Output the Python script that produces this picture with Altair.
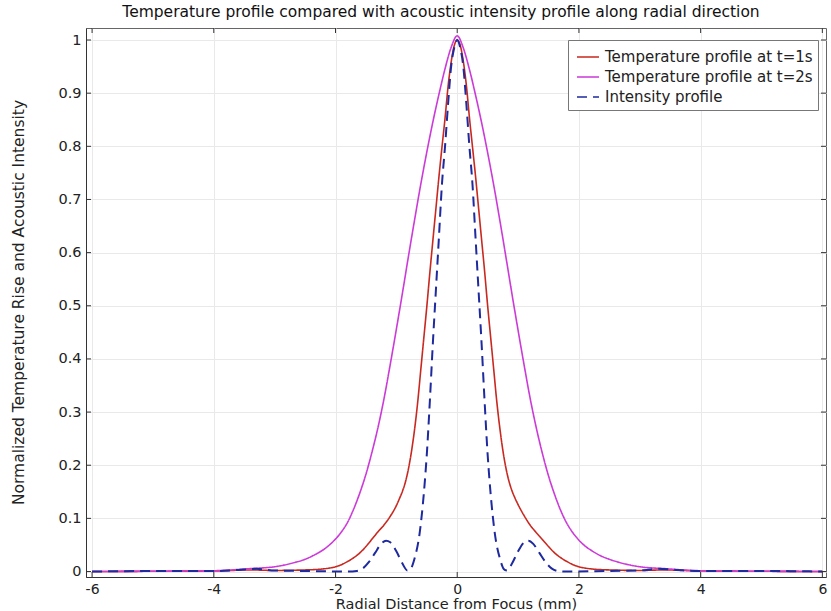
import altair as alt
import pandas as pd

# ---- data ----
SER_T1 = "Temperature profile at t=1s"
SER_T2 = "Temperature profile at t=2s"
SER_I = "Intensity profile"

t1_x = [-6.0, -5.0, -4.0, -3.4, -3.0, -2.5, -2.2, -2.0, -1.9, -1.8, -1.7, -1.6, -1.5, -1.4, -1.3,
        -1.2, -1.1, -1.0, -0.95, -0.9, -0.85, -0.8, -0.75, -0.7, -0.65, -0.6, -0.55, -0.5, -0.45,
        -0.4, -0.35, -0.3, -0.25, -0.2, -0.15, -0.1, -0.05, 0.0,
        0.05, 0.1, 0.15, 0.2, 0.25, 0.3, 0.35, 0.4, 0.45, 0.5, 0.55, 0.6, 0.65, 0.7, 0.75, 0.8,
        0.85, 0.9, 0.95, 1.0, 1.1, 1.2, 1.3, 1.4, 1.5, 1.6, 1.7, 1.8, 1.9, 2.0, 2.2, 2.5, 3.0,
        3.4, 4.0, 5.0, 6.0]
t1_y = [0.0, 0.0005, 0.001, 0.003, 0.002, 0.003, 0.005, 0.009, 0.013, 0.019, 0.026, 0.035, 0.047, 0.061, 0.075,
        0.088, 0.104, 0.124, 0.137, 0.151, 0.169, 0.194, 0.227, 0.268, 0.318, 0.378, 0.438, 0.498, 0.562,
        0.623, 0.683, 0.743, 0.799, 0.853, 0.913, 0.958, 0.989, 1.0,
        0.99, 0.96, 0.915, 0.855, 0.8, 0.745, 0.685, 0.625, 0.565, 0.5, 0.44, 0.38, 0.32, 0.27, 0.228, 0.195,
        0.17, 0.152, 0.138, 0.126, 0.105, 0.087, 0.073, 0.06, 0.047, 0.035, 0.026, 0.019, 0.013, 0.009, 0.005, 0.003, 0.002,
        0.003, 0.001, 0.0005, 0.0]

t2_x = [-6.0, -5.0, -4.0, -3.7, -3.4, -3.2, -3.0, -2.85, -2.67, -2.5, -2.35, -2.2, -2.1, -2.0, -1.9,
        -1.8, -1.7, -1.6, -1.5, -1.4, -1.3, -1.2, -1.1, -1.0, -0.9, -0.8, -0.7, -0.6, -0.5, -0.4,
        -0.3, -0.2, -0.1, 0.0, 0.1, 0.2, 0.3, 0.4, 0.5, 0.6, 0.7, 0.8, 0.9, 1.0, 1.1, 1.2, 1.3,
        1.4, 1.5, 1.6, 1.7, 1.8, 1.9, 2.0, 2.1, 2.2, 2.35, 2.5, 2.67, 2.85, 3.0, 3.2, 3.4, 3.7,
        4.0, 5.0, 6.0]
t2_y = [0.0, 0.0005, 0.0015, 0.003, 0.0055, 0.0068, 0.009, 0.012, 0.017, 0.023, 0.031, 0.041, 0.05, 0.061, 0.075,
        0.093, 0.118, 0.148, 0.183, 0.225, 0.272, 0.327, 0.39, 0.456, 0.524, 0.594, 0.662, 0.728, 0.789, 0.846,
        0.898, 0.946, 0.986, 1.008, 0.985, 0.945, 0.897, 0.845, 0.788, 0.727, 0.661, 0.592, 0.522, 0.454, 0.388, 0.325, 0.27,
        0.222, 0.18, 0.145, 0.115, 0.091, 0.073, 0.059, 0.048, 0.04, 0.03, 0.023, 0.017, 0.012, 0.009, 0.0068, 0.0055, 0.003,
        0.0015, 0.0005, 0.0]

in_x = [-6.0, -5.0, -4.0, -3.6, -3.3, -3.0, -2.5, -1.8, -1.65, -1.55, -1.45, -1.35, -1.25, -1.17,
        -1.1, -1.0, -0.9, -0.82, -0.78, -0.7, -0.62, -0.55, -0.5, -0.45, -0.4, -0.35, -0.3, -0.25,
        -0.2, -0.15, -0.1, -0.05, 0.0, 0.05, 0.1, 0.15, 0.2, 0.25, 0.3, 0.35, 0.4, 0.45, 0.5,
        0.55, 0.62, 0.7, 0.78, 0.82, 0.9, 1.0, 1.1, 1.17, 1.25, 1.35, 1.45, 1.55, 1.65, 1.8,
        2.5, 3.0, 3.3, 3.6, 4.0, 5.0, 6.0]
in_y = [0.0, 0.001, 0.001, 0.003, 0.005, 0.002, 0.001, 0.0, 0.001, 0.006, 0.018, 0.035, 0.052, 0.058,
        0.055, 0.038, 0.015, 0.002, 0.003, 0.025, 0.07, 0.145, 0.22, 0.32, 0.43, 0.53, 0.63, 0.73,
        0.8, 0.88, 0.95, 0.985, 1.0, 0.985, 0.95, 0.88, 0.8, 0.73, 0.63, 0.53, 0.43, 0.32, 0.22,
        0.145, 0.07, 0.025, 0.003, 0.002, 0.015, 0.038, 0.055, 0.058, 0.052, 0.035, 0.018, 0.006, 0.001, 0.0,
        0.001, 0.002, 0.005, 0.003, 0.001, 0.001, 0.0]

x_ticks = [-6, -4, -2, 0, 2, 4, 6]
y_ticks = [0, 0.1, 0.2, 0.3, 0.4, 0.5, 0.6, 0.7, 0.8, 0.9, 1.0]

series = [SER_T1, SER_T2, SER_I]
colors = ["#c8281f", "#cc3ad8", "#1e2a9e"]
dashes = [[1, 0], [1, 0], [10, 6]]

rows = []
for name, xs, ys in [(SER_T1, t1_x, t1_y), (SER_T2, t2_x, t2_y), (SER_I, in_x, in_y)]:
    for xv, yv in zip(xs, ys):
        rows.append({"r": xv, "v": yv, "series": name})
df = pd.DataFrame(rows)

W, H = 740, 549
FONT = "DejaVu Sans"

xscale = alt.Scale(domain=[-6.1, 6.06], nice=False, zero=False)
yscale = alt.Scale(domain=[-0.0103, 1.0226], nice=False, zero=False)

color_enc = alt.Color("series:N", scale=alt.Scale(domain=series, range=colors),
                      legend=alt.Legend(title=None))
dash_enc = alt.StrokeDash("series:N", scale=alt.Scale(domain=series, range=dashes),
                          legend=alt.Legend(title=None))

x_axis = alt.Axis(values=x_ticks, labelExpr="'' + datum.value", title="Radial Distance from Focus (mm)",
                  grid=True, ticks=False, labelPadding=5, labelFontSize=14, titleY=31, titleFontSize=14.5,
                  titleBaseline="alphabetic")
y_axis = alt.Axis(values=y_ticks, labelExpr="'' + datum.value",
                  title="Normalized Temperature Rise and Acoustic Intensity",
                  grid=True, ticks=False, labelPadding=5, titleX=-68, titleY=274, titleFontSize=15.5,
                  titleAlign="center", titleBaseline="middle", titleAngle=270)

layers = []
for i, name in enumerate(series):
    layers.append(
        alt.Chart(df).transform_filter(alt.datum.series == name).mark_line(
            interpolate="monotone", strokeWidth=2 if name == SER_I else 1.6
        ).encode(
            x=alt.X("r:Q", scale=xscale, axis=x_axis),
            y=alt.Y("v:Q", scale=yscale, axis=y_axis),
            color=color_enc,
            strokeDash=dash_enc,
        )
    )

xt = pd.DataFrame({"r": x_ticks})
yt = pd.DataFrame({"v": y_ticks})
tick_color = "#333333"
tb = alt.Chart(xt).mark_rule(color=tick_color, strokeWidth=1).encode(
    x=alt.X("r:Q", scale=xscale, axis=x_axis), y=alt.value(H), y2=alt.value(H - 5))
tt = alt.Chart(xt).mark_rule(color=tick_color, strokeWidth=1).encode(
    x=alt.X("r:Q", scale=xscale, axis=x_axis), y=alt.value(0), y2=alt.value(5))
tl = alt.Chart(yt).mark_rule(color=tick_color, strokeWidth=1).encode(
    y=alt.Y("v:Q", scale=yscale, axis=y_axis), x=alt.value(0), x2=alt.value(5))
tr = alt.Chart(yt).mark_rule(color=tick_color, strokeWidth=1).encode(
    y=alt.Y("v:Q", scale=yscale, axis=y_axis), x=alt.value(W), x2=alt.value(W - 5))

chart = alt.layer(*layers, tb, tt, tl, tr).properties(
    width=W, height=H,
    title=alt.TitleParams(
        "Temperature profile compared with acoustic intensity profile along radial direction",
        fontSize=15.5, font=FONT, fontWeight="normal", color="#111111", anchor="middle", dx=-15, offset=7),
    autosize=alt.AutoSizeParams(type="none"),
    padding={"left": 86, "top": 28, "right": 5, "bottom": 34},
).configure_view(
    stroke="#666666", strokeWidth=1
).configure_axis(
    labelFont=FONT, titleFont=FONT, labelFontSize=14.5, titleFontWeight="normal",
    labelColor="#222222", titleColor="#222222", gridColor="#e9e9e9", gridWidth=1,
    domainColor="#333333", domainWidth=1,
).configure_legend(
    orient="none", legendX=482, legendY=12, strokeColor="#777777", fillColor="white",
    padding=5, rowPadding=0, labelFont=FONT, labelFontSize=15, labelColor="#222222", labelLimit=300,
    symbolType="stroke", symbolSize=484, symbolStrokeWidth=1.6, labelOffset=5, symbolOffset=3,
)

chart.save("out.html", embed_options={"renderer": "svg", "actions": False})
